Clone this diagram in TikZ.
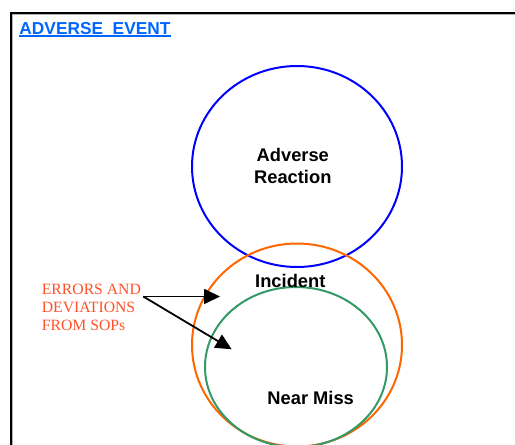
\documentclass[tikz,border=0pt]{standalone}
\usepackage{fontspec}
\setmainfont{Liberation Sans}
\newfontfamily\errfont{Liberation Serif}
\usetikzlibrary{arrows.meta}
\definecolor{titleblue}{RGB}{0,102,255}
\definecolor{arblue}{RGB}{0,0,255}
\definecolor{incorange}{RGB}{255,102,0}
\definecolor{nmgreen}{RGB}{51,153,102}
\definecolor{errred}{RGB}{255,80,40}
\begin{document}
\begin{tikzpicture}[x=1pt,y=-1pt,
  ring/.style={line width=2pt},
  lbl/.style={inner sep=0pt,font=\bfseries\fontsize{18.3}{21.6}\selectfont,align=center},
  errarrow/.style={line width=1.8pt,-{Triangle[length=16pt,width=15pt]}}]
\useasboundingbox (0,0) rectangle (515,445);
% frame
\draw[gray!60,line width=1pt] (12.8,445) -- (12.8,14.8) -- (515,14.8);
\draw[black,line width=2pt] (11,445) -- (11,13) -- (515,13);
% title
\node[inner sep=0pt,anchor=base west,text=titleblue,font=\bfseries\fontsize{17.3}{20}\selectfont] (title) at (19.3,34.3) {ADVERSE\ \ EVENT};
\draw[titleblue,line width=1.8pt] (title.base west |- 0,36.2) -- (title.base east |- 0,36.2);
% circles
\draw[ring,arblue] (297,166.5) ellipse [x radius=105, y radius=100.5];
\draw[ring,incorange] (297,345) ellipse [x radius=105, y radius=101.5];
\draw[ring,nmgreen] (296,367) ellipse [x radius=91, y radius=80];
% labels
\node[lbl,anchor=base] (ar) at (292.8,183.3) {Adverse\\Reaction};
\node[lbl,anchor=base] (inc) at (290.3,287.3) {Incident};
\node[lbl,anchor=base] (nm) at (310.7,404) {Near Miss};
% errors text
\node[inner sep=0pt,anchor=base west,align=left,text=errred,font=\errfont\fontsize{15.7}{18.2}\selectfont] (err) at (41.7,330.7) {ERRORS AND\\DEVIATIONS\\FROM SOPs};
\coordinate (src) at (143.3,296.5);
\coordinate (tipA) at (220,296.5);
\coordinate (tipB) at (231.7,349.3);
\draw[errarrow] (src) -- (tipA);
\draw[errarrow] (src) -- (tipB);
\end{tikzpicture}
\end{document}
